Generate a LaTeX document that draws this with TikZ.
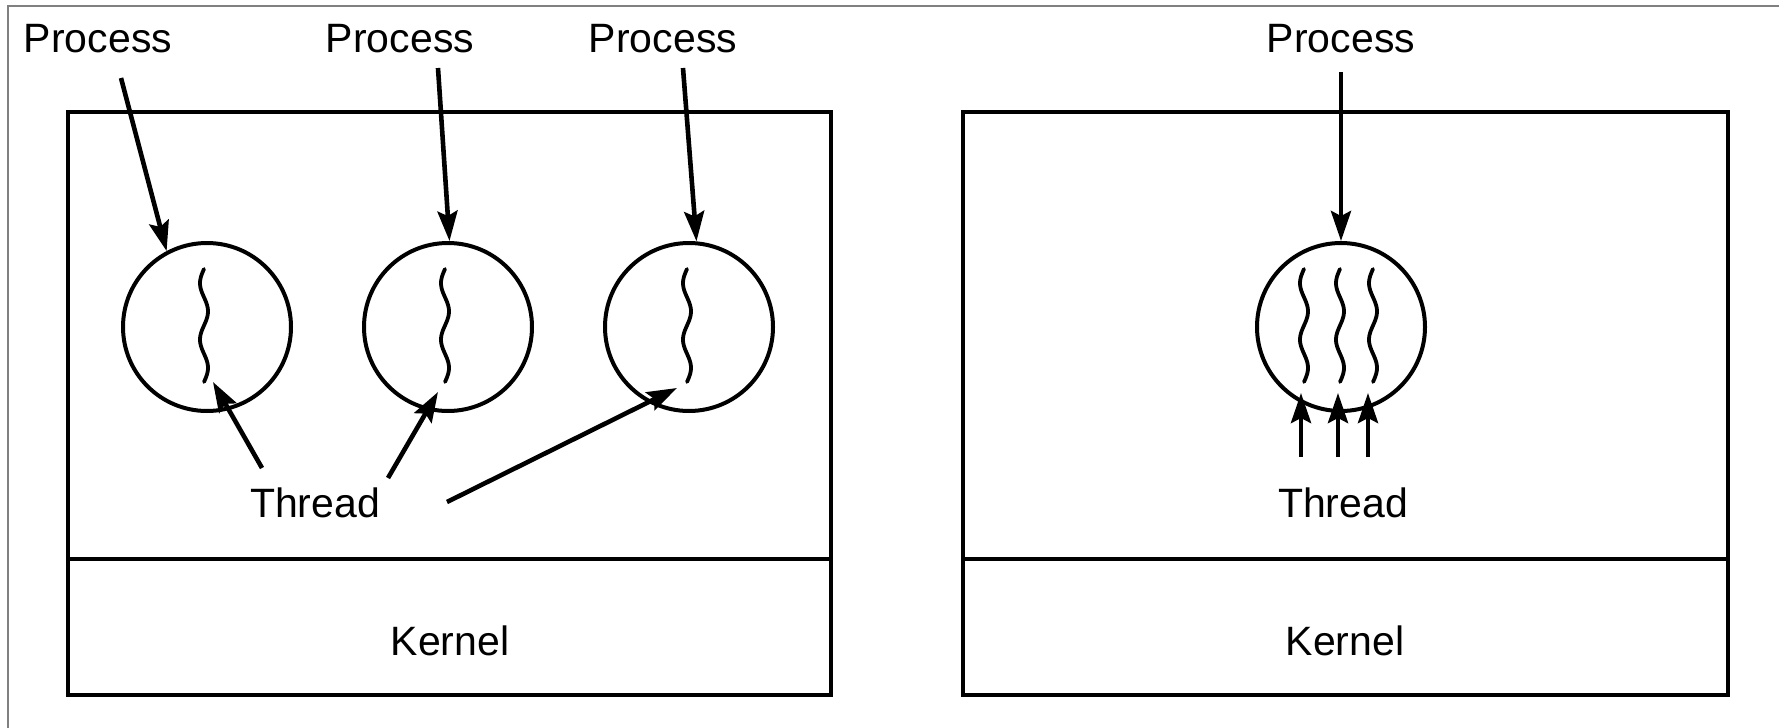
\documentclass[tikz,border=0pt]{standalone}
\usepackage{fontspec}
\setmainfont{Liberation Sans}
\usetikzlibrary{arrows.meta}
\begin{document}
\begin{tikzpicture}[x=0.5pt,y=-0.5pt,
  box/.style={draw, line width=2.1pt},
  proc/.style={circle, draw, line width=2pt, minimum size=84pt, inner sep=0pt},
  lbl/.style={anchor=base, inner sep=0pt, font=\fontsize{20.5}{24}\selectfont},
  ptr/.style={line width=2.3pt, -{Stealth[length=15pt,width=10pt,inset=2.5pt]}},
  wiggle/.style={line width=1.9pt, line cap=round},
  frameline/.style={draw=gray, line width=0.6pt},
  thread/.pic={\draw[wiggle] plot[domain=0:1, samples=60, smooth] ({-4*sin(720*\x)}, {113*\x});}]
\useasboundingbox (0,0) rectangle (1779,728);
% outer frame (top and left edges)
\draw[frameline] (8,728) -- (8,6) -- (1779,6);

% ---- left: many single-threaded processes ----
\draw[box] (68,112) rectangle (831,695);
\draw[box] (68,559) -- (831,559);
\node[lbl] (kl) at (450,655) {Kernel};

\node[proc] (c1) at (207,327) {};
\node[proc] (c2) at (448,327) {};
\node[proc] (c3) at (689,327) {};
\pic at (204,269) {thread};
\pic at (445,269) {thread};
\pic at (687,269) {thread};

\node[lbl] (pl1) at (98,52) {Process};
\node[lbl] (pl2) at (400,52) {Process};
\node[lbl] (pl3) at (663,52) {Process};
\coordinate (s1) at (121,78);
\coordinate (s2) at (438,68);
\coordinate (s3) at (683,68);
\draw[ptr] (s1) -- (c1.118);
\draw[ptr] (s2) -- (c2.89);
\draw[ptr] (s3) -- (c3.85);

\node[lbl] (tl) at (315,517) {Thread};
\coordinate (ta) at (262,468);
\coordinate (tb) at (388,478);
\coordinate (tc) at (447,502);
\coordinate (ea) at (213,382);
\coordinate (eb) at (438,392);
\coordinate (ec) at (677,388);
\draw[ptr] (ta) -- (ea);
\draw[ptr] (tb) -- (eb);
\draw[ptr] (tc) -- (ec);

% ---- right: one multithreaded process ----
\draw[box] (963,112) rectangle (1728,695);
\draw[box] (963,559) -- (1728,559);
\node[lbl] (kr) at (1345,655) {Kernel};

\node[proc] (c4) at (1341,327) {};
\pic at (1304,269) {thread};
\pic at (1340,269) {thread};
\pic at (1373,269) {thread};

\node[lbl] (pr) at (1341,52) {Process};
\coordinate (s4) at (1341,72);
\draw[ptr] (s4) -- (c4.north);

\node[lbl] (tr) at (1343,517) {Thread};
\foreach \i/\xx in {1/1301,2/1338,3/1368}{
  \coordinate (u\i) at (\xx,457);
  \coordinate (v\i) at (\xx,393);
  \draw[ptr] (u\i) -- (v\i);
}
\end{tikzpicture}
\end{document}
